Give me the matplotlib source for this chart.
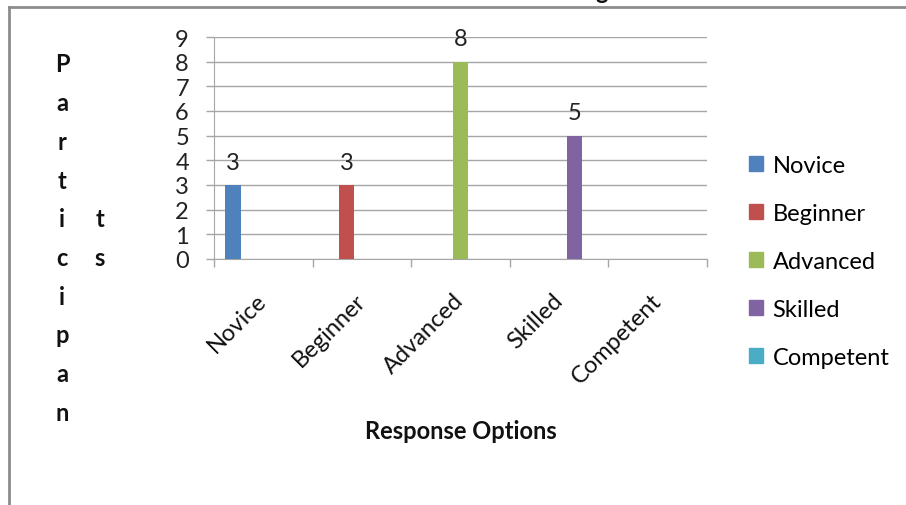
import numpy as np
from matplotlib import pyplot as plt
from matplotlib.patches import Patch
from matplotlib.lines import Line2D

plt.rcParams['font.family'] = ['Lato', 'DejaVu Sans']

categories = ['Novice', 'Beginner', 'Advanced', 'Skilled', 'Competent']
# one series per response option, each only non-zero in its own category
series_names = ['Novice', 'Beginner', 'Advanced', 'Skilled', 'Competent']
series_values = [
  [3, 0, 0, 0, 0],
  [0, 3, 0, 0, 0],
  [0, 0, 8, 0, 0],
  [0, 0, 0, 5, 0],
  [0, 0, 0, 0, 0],
]
colors = ['#4F81BD', '#C0504D', '#9BBB59', '#8064A2', '#4BACC6']
yticks = list(range(0, 10))

W, H = 906, 506
fs = 17
fig = plt.figure(figsize=(W/100, H/100), dpi=100)
ax = fig.add_axes([214/W, 1-260/H, 493/W, 222/H])

gridc = '#A6A6A6'
n = len(series_names)
w = 1/(n + 1.5)
x = np.arange(len(categories))
for j in range(n):
  off = -0.5 + 0.75*w + (j + 0.5)*w
  bars = ax.bar(x + off, series_values[j], width=w, color=colors[j], zorder=3)
  labels = [str(v) if v else '' for v in series_values[j]]
  ax.bar_label(bars, labels=labels, padding=9, fontsize=fs, color='#222222')

ax.set_xlim(-0.5, len(categories) - 0.5)
ax.set_ylim(0, 9)
ax.set_yticks(yticks)
ax.tick_params(axis='y', length=6, width=1, color=gridc, pad=12, labelsize=fs,
               labelcolor='#222222')
ax.grid(axis='y', color=gridc, lw=1, zorder=0)
ax.set_axisbelow(True)

# boundaries carry the tick marks, centres carry the names
ax.set_xticks(np.arange(len(categories) + 1) - 0.5)
ax.set_xticklabels([])
ax.set_xticks(x, minor=True)
ax.set_xticklabels(categories, minor=True)
ax.tick_params(axis='x', which='major', length=6, width=1, color=gridc)
ax.tick_params(axis='x', which='minor', length=0, pad=27, labelsize=fs,
               labelrotation=45, labelcolor='#111111')
for lbl in ax.get_xticklabels(minor=True):
  lbl.set_ha('right'); lbl.set_va('center'); lbl.set_rotation_mode('anchor')

for s in ['top', 'right']:
  ax.spines[s].set_visible(False)
for s in ['left', 'bottom']:
  ax.spines[s].set_color(gridc)

fig.text(461/W, 1-432/H, 'Response Options', ha='center', va='center',
         fontsize=fs, fontweight='bold', color='#111111')

# axis title written letter by letter in two columns
ytitle = 'Participants'
cols = [ytitle[:10], ytitle[10:]]
colx = [62, 100]
step = 38.7
for c, letters in enumerate(cols):
  start = 65 + (10 - len(letters))/2*step
  for i, ch in enumerate(letters):
    fig.text(colx[c]/W, 1-(start + i*step)/H, ch, ha='center', va='center',
             fontsize=fs, fontweight='bold', color='#111111')

handles = [Patch(color=colors[j]) for j in range(n)]
fig.legend(handles, series_names, loc='upper left',
           bbox_to_anchor=(749/W, 1-156/H), frameon=False, fontsize=fs,
           handlelength=0.6, handleheight=0.6, handletextpad=0.4,
           labelspacing=1.14, borderaxespad=0, borderpad=0)

# outer chart frame and clipped heading above it
fig.add_artist(Line2D([9/W, 9/W], [0, 1-8/H], color='#8C8C8C', lw=2))
fig.add_artist(Line2D([9/W, 1], [1-8/H, 1-8/H], color='#8C8C8C', lw=2))
fig.text(602/W, 1+1/H, 'g', ha='center', va='baseline', fontsize=fs,
         fontweight='bold', color='#111111')

fig.savefig('out.png', dpi=100)
